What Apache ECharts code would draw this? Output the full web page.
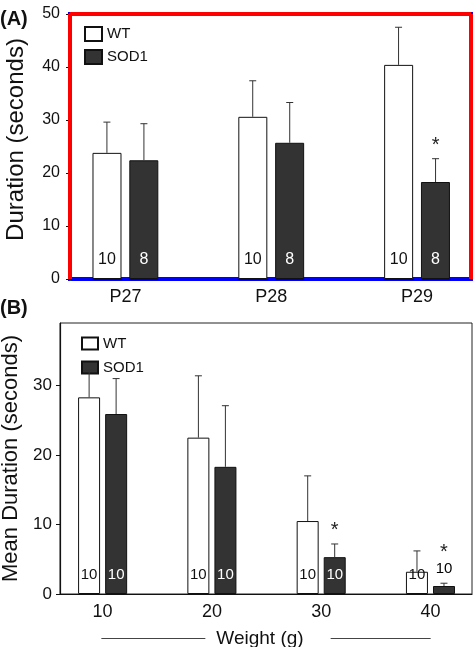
<!DOCTYPE html>
<html>
<head>
<meta charset="utf-8">
<script src="https://cdn.jsdelivr.net/npm/echarts@6/dist/echarts.min.js"></script>
<style>
html,body{margin:0;padding:0;background:#fff;}
#chart{width:475px;height:647px;}
</style>
</head>
<body>
<div id="chart"></div>
<script>
// ---- Panel A data ----
var categoriesA = ['P27', 'P28', 'P29'];
var wtA = [23.8, 30.6, 40.4];
var wtAErr = [5.8, 6.8, 7.1];
var sodA = [22.4, 25.7, 18.3];
var sodAErr = [6.9, 7.6, 4.4];
var nWtA = [10, 10, 10];
var nSodA = [8, 8, 8];
var sigA = [0, 0, 1];
var yTicksA = [0, 10, 20, 30, 40, 50];

// ---- Panel B data ----
var weightsB = [10, 20, 30, 40];
var wtB = [28.3, 22.5, 10.5, 3.2];
var wtBErr = [3.9, 8.9, 6.5, 3.0];
var sodB = [25.9, 18.3, 5.3, 1.15];
var sodBErr = [5.1, 8.8, 1.9, 0.4];
var nWtB = [10, 10, 10, 10];
var nSodB = [10, 10, 10, 10];
var sigB = [0, 0, 1, 1];
var yTicksB = [0, 10, 20, 30];

var FONT = '"Liberation Sans", Arial, sans-serif';
var DARK = '#333333';
var X_MIN_A = -0.38, X_MAX_A = 2.37, Y_MAX_A = 50;

function barData(xs, vals, ns, smallLabelAbove) {
  return vals.map(function (v, i) {
    var item = { value: [xs[i], v], n: ns[i] };
    if (smallLabelAbove && v < 2) {
      item.label = { position: 'top', color: '#000', distance: 10 };
    }
    return item;
  });
}
function errData(xs, vals, errs, sig) {
  return vals.map(function (v, i) { return [xs[i], v, v + errs[i], sig[i]]; });
}
function errRender(offset, capHalf, starGap, starGapAbove) {
  return function (params, api) {
    var x = api.value(0), m = api.value(1), hi = api.value(2), s = api.value(3);
    var p0 = api.coord([x, m]);
    var p1 = api.coord([x, hi]);
    var cx = p0[0] + offset;
    var children = [
      { type: 'line', shape: { x1: cx, y1: p0[1], x2: cx, y2: p1[1] }, style: { stroke: DARK, lineWidth: 1 } },
      { type: 'line', shape: { x1: cx - capHalf, y1: p1[1], x2: cx + capHalf, y2: p1[1] }, style: { stroke: DARK, lineWidth: 1 } }
    ];
    if (s) {
      children.push({
        type: 'text',
        style: {
          text: '*', x: cx, y: p1[1] - (m < 2 ? starGapAbove : starGap),
          align: 'center', verticalAlign: 'middle',
          font: '20px ' + FONT, fill: '#222'
        }
      });
    }
    return { type: 'group', children: children };
  };
}
function frameRender(params, api) {
  var x0 = api.value(0), y0 = api.value(1), x1 = api.value(2), y1 = api.value(3);
  var bl = api.coord([x0, y0]);
  var tr = api.coord([x1, y1]);
  return { type: 'group', children: [
    { type: 'line', shape: { x1: bl[0], y1: bl[1], x2: bl[0], y2: tr[1] }, style: { stroke: 'red', lineWidth: 4 } },
    { type: 'line', shape: { x1: bl[0], y1: tr[1], x2: tr[0], y2: tr[1] }, style: { stroke: 'red', lineWidth: 4 } },
    { type: 'line', shape: { x1: tr[0], y1: tr[1], x2: tr[0], y2: bl[1] }, style: { stroke: 'red', lineWidth: 4 } }
  ] };
}

var idxA = categoriesA.map(function (c, i) { return i; });

var chart = echarts.init(document.getElementById('chart'), null, { renderer: 'canvas' });
var option = {
  backgroundColor: '#fff',
  animation: false,
  textStyle: { fontFamily: FONT },
  graphic: [
    { type: 'text', left: 0, top: 9, style: { text: '(A)', font: 'bold 20px ' + FONT, fill: '#111' } },
    { type: 'text', left: 0, top: 298, style: { text: '(B)', font: 'bold 20px ' + FONT, fill: '#111' } }
  ],
  legend: [
    {
      data: ['WT', 'SOD1'], orient: 'vertical', left: 79, top: 21,
      itemWidth: 17, itemHeight: 14, itemGap: 7, icon: 'rect',
      textStyle: { fontSize: 15, color: '#111', fontFamily: FONT }, selectedMode: false
    },
    {
      data: ['WT', 'SOD1'], orient: 'vertical', left: 76, top: 331,
      itemWidth: 16, itemHeight: 12, itemGap: 9, icon: 'rect',
      textStyle: { fontSize: 15, color: '#111', fontFamily: FONT }, selectedMode: false
    }
  ],
  grid: [
    { left: 70, top: 14, right: 4, bottom: 368, show: true, borderColor: 'blue', borderWidth: 4,
      outerBoundsMode: 'none', containLabel: false },
    { left: 60, top: 323, right: 3, bottom: 53, show: true, borderColor: '#222', borderWidth: 1,
      backgroundColor: 'transparent', outerBoundsMode: 'none', containLabel: false }
  ],
  xAxis: [
    {
      gridIndex: 0, type: 'value', min: X_MIN_A, max: X_MAX_A,
      axisLine: { show: true, onZero: false, lineStyle: { color: '#111', width: 1.2 } },
      axisTick: { show: false },
      splitLine: { show: false },
      axisLabel: {
        customValues: idxA, margin: 9, fontSize: 18, color: '#111',
        formatter: function (v) { return categoriesA[Math.round(v)]; }
      }
    },
    {
      gridIndex: 1, type: 'value', min: 6.1, max: 43.8,
      axisLine: { show: true, onZero: false, lineStyle: { color: '#111', width: 1.2 } },
      axisTick: { show: false },
      splitLine: { show: false },
      axisLabel: { customValues: weightsB, margin: 9, fontSize: 18, color: '#111' },
      name: '{l|}{t|Weight (g)}{r|}',
      nameLocation: 'middle', nameGap: 35,
      nameTextStyle: {
        rich: {
          l: { width: 104, height: 1, backgroundColor: '#444' },
          r: { width: 100, height: 1, backgroundColor: '#444' },
          t: { fontSize: 19, color: '#111', fontFamily: FONT, padding: [0, 27, 0, 11] }
        }
      }
    }
  ],
  yAxis: [
    {
      gridIndex: 0, type: 'value', min: 0, max: Y_MAX_A, interval: 10,
      axisLine: { show: true, onZero: false, lineStyle: { color: 'green', width: 3 } },
      axisTick: { show: true, length: 4, lineStyle: { color: '#111' } },
      splitLine: { show: false },
      axisLabel: { customValues: yTicksA, margin: 10, fontSize: 16, color: '#111' },
      name: 'Duration (seconds)', nameLocation: 'middle', nameGap: 42,
      nameTextStyle: { fontSize: 24, color: '#111', fontFamily: FONT, padding: [0, 0, 0, 14] }
    },
    {
      gridIndex: 1, type: 'value', min: 0, max: 39, interval: 10,
      axisLine: { show: true, onZero: false, lineStyle: { color: '#111', width: 1.2 } },
      axisTick: { show: true, length: 4, customValues: yTicksB, lineStyle: { color: '#111' } },
      splitLine: { show: false },
      axisLabel: { customValues: yTicksB, margin: 8, fontSize: 17, color: '#111' },
      name: 'Mean Duration (seconds)', nameLocation: 'middle', nameGap: 36,
      nameTextStyle: { fontSize: 22, color: '#111', fontFamily: FONT }
    }
  ],
  series: [
    {
      name: 'WT', type: 'bar', xAxisIndex: 0, yAxisIndex: 0,
      barWidth: 29, barGap: '27%',
      itemStyle: { color: '#fff', borderColor: '#111', borderWidth: 1 },
      label: { show: true, position: 'insideBottom', distance: 11, fontSize: 16, color: '#111',
        formatter: function (p) { return p.data.n; } },
      data: barData(idxA, wtA, nWtA, false)
    },
    {
      name: 'SOD1', type: 'bar', xAxisIndex: 0, yAxisIndex: 0,
      barWidth: 29, barGap: '27%',
      itemStyle: { color: DARK, borderColor: '#111', borderWidth: 1 },
      label: { show: true, position: 'insideBottom', distance: 11, fontSize: 16, color: '#fff',
        formatter: function (p) { return p.data.n; } },
      data: barData(idxA, sodA, nSodA, false)
    },
    {
      type: 'custom', xAxisIndex: 0, yAxisIndex: 0, z: 5, silent: true,
      renderItem: errRender(-18.5, 3.5, 13, 31),
      data: errData(idxA, wtA, wtAErr, [0, 0, 0])
    },
    {
      type: 'custom', xAxisIndex: 0, yAxisIndex: 0, z: 5, silent: true,
      renderItem: errRender(18.5, 3.5, 13, 31),
      data: errData(idxA, sodA, sodAErr, sigA)
    },
    {
      type: 'custom', xAxisIndex: 0, yAxisIndex: 0, z: 10, silent: true, clip: false,
      renderItem: frameRender,
      data: [[X_MIN_A, 0, X_MAX_A, Y_MAX_A]]
    },
    {
      name: 'WT', type: 'bar', xAxisIndex: 1, yAxisIndex: 1,
      barWidth: 22, barGap: '23%',
      itemStyle: { color: '#fff', borderColor: '#111', borderWidth: 1 },
      label: { show: true, position: 'insideBottom', distance: 12, fontSize: 15, color: '#111',
        formatter: function (p) { return p.data.n; } },
      data: barData(weightsB, wtB, nWtB, false)
    },
    {
      name: 'SOD1', type: 'bar', xAxisIndex: 1, yAxisIndex: 1,
      barWidth: 22, barGap: '23%',
      itemStyle: { color: DARK, borderColor: '#111', borderWidth: 1 },
      label: { show: true, position: 'insideBottom', distance: 12, fontSize: 15, color: '#fff',
        formatter: function (p) { return p.data.n; } },
      data: barData(weightsB, sodB, nSodB, true)
    },
    {
      type: 'custom', xAxisIndex: 1, yAxisIndex: 1, z: 5, silent: true,
      renderItem: errRender(-13.5, 3.5, 13, 31),
      data: errData(weightsB, wtB, wtBErr, [0, 0, 0, 0])
    },
    {
      type: 'custom', xAxisIndex: 1, yAxisIndex: 1, z: 5, silent: true,
      renderItem: errRender(13.5, 3.5, 13, 31),
      data: errData(weightsB, sodB, sodBErr, sigB)
    }
  ]
};
chart.setOption(option);
</script>
</body>
</html>
